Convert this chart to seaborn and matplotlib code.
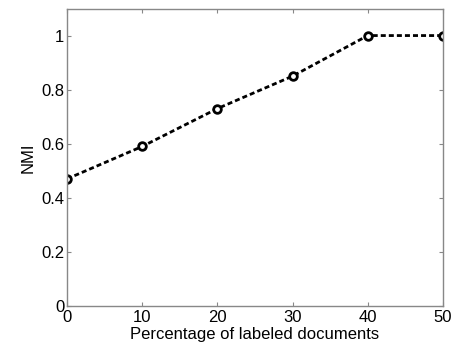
import matplotlib
matplotlib.use("Agg")
import matplotlib.pyplot as plt
import seaborn as sns
import pandas as pd

pct = [0, 10, 20, 30, 40, 50]
nmi = [0.47, 0.59, 0.73, 0.85, 1.0, 1.0]
xticks = [0, 10, 20, 30, 40, 50]
yticks = [0, 0.2, 0.4, 0.6, 0.8, 1.0]
yticklabels = ["0", "0.2", "0.4", "0.6", "0.8", "1"]

sns.set_theme(style="white")
plt.rcParams['font.family'] = ['Liberation Sans', 'DejaVu Sans']

df = pd.DataFrame({"pct": pct, "nmi": nmi})

fig = plt.figure(figsize=(4.6, 3.46), dpi=100)
ax = fig.add_axes([0.1457, 0.1156, 0.963 - 0.1457, 0.9754 - 0.1156])
sns.lineplot(data=df, x="pct", y="nmi", ax=ax, color="black",
             linewidth=2, marker="o", markersize=5.5, markerfacecolor="white",
             markeredgecolor="black", markeredgewidth=2, dashes=False)
ax.lines[0].set_dashes((1.8, 1.1))

ax.set_xlim(0, 50)
ax.set_ylim(0, 1.1)
ax.set_xticks(xticks)
ax.set_xticklabels([str(t) for t in xticks])
ax.set_yticks(yticks)
ax.set_yticklabels(yticklabels)
ax.set_xlabel("Percentage of labeled documents", fontsize=12, labelpad=1, color="black")
ax.set_ylabel("NMI", fontsize=12, labelpad=4, color="black")
ax.tick_params(direction="in", length=3, width=0.8, color="#888888",
               labelsize=12, labelcolor="black", top=True, right=True, pad=2,
               bottom=True, left=True)
ax.tick_params(axis="x", pad=3)
for s in ax.spines.values():
    s.set_color("#888888")
    s.set_linewidth(1)
    s.set_visible(True)

fig.savefig("out.png", dpi=100)
